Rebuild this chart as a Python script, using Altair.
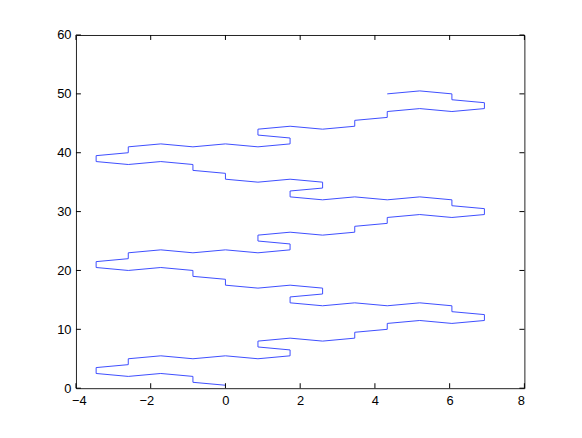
import altair as alt
import pandas as pd

# Path vertices (in drawing order)
xs = [
    0, -0.87, -0.87, -1.73, -2.6, -3.46, -3.46, -2.6, -2.6, -1.73,
    -0.87, 0, 0.87, 1.73, 1.73, 0.87, 0.87, 1.73, 2.6, 3.46,
    3.46, 4.33, 4.33, 5.2, 6.06, 6.93, 6.93, 6.06, 6.06, 5.2,
    4.33, 3.46, 2.6, 1.73, 1.73, 2.6, 2.6, 1.73, 0.87, 0,
    0, -0.87, -0.87, -1.73, -2.6, -3.46, -3.46, -2.6, -2.6, -1.73,
    -0.87, 0, 0.87, 1.73, 1.73, 0.87, 0.87, 1.73, 2.6, 3.46,
    3.46, 4.33, 4.33, 5.2, 6.06, 6.93, 6.93, 6.06, 6.06, 5.2,
    4.33, 3.46, 2.6, 1.73, 1.73, 2.6, 2.6, 1.73, 0.87, 0,
    0, -0.87, -0.87, -1.73, -2.6, -3.46, -3.46, -2.6, -2.6, -1.73,
    -0.87, 0, 0.87, 1.73, 1.73, 0.87, 0.87, 1.73, 2.6, 3.46,
    3.46, 4.33, 4.33, 5.2, 6.06, 6.93, 6.93, 6.06, 6.06, 5.2,
    4.33,
]
ys = [
    0.5, 1, 2, 2.5, 2, 2.5, 3.5, 4, 5, 5.5,
    5, 5.5, 5, 5.5, 6.5, 7, 8, 8.5, 8, 8.5,
    9.5, 10, 11, 11.5, 11, 11.5, 12.5, 13, 14, 14.5,
    14, 14.5, 14, 14.5, 15.5, 16, 17, 17.5, 17, 17.5,
    18.5, 19, 20, 20.5, 20, 20.5, 21.5, 22, 23, 23.5,
    23, 23.5, 23, 23.5, 24.5, 25, 26, 26.5, 26, 26.5,
    27.5, 28, 29, 29.5, 29, 29.5, 30.5, 31, 32, 32.5,
    32, 32.5, 32, 32.5, 33.5, 34, 35, 35.5, 35, 35.5,
    36.5, 37, 38, 38.5, 38, 38.5, 39.5, 40, 41, 41.5,
    41, 41.5, 41, 41.5, 42.5, 43, 44, 44.5, 44, 44.5,
    45.5, 46, 47, 47.5, 47, 47.5, 48.5, 49, 50, 50.5,
    50,
]
x_ticks = [-4, -2, 0, 2, 4, 6, 8]
y_ticks = [0, 10, 20, 30, 40, 50, 60]

df = pd.DataFrame({"i": list(range(len(xs))), "x": xs, "y": ys})
xt = pd.DataFrame({"v": x_ticks})
yt = pd.DataFrame({"v": y_ticks})

FONT = "Liberation Sans"
W, H = 452, 356
TICK = 5
xscale = alt.Scale(domain=[-4, 8], nice=False, zero=False)
yscale = alt.Scale(domain=[0, 60], nice=False, zero=False)

axis_common = dict(
    grid=False, domain=False, ticks=False,
    labelFont=FONT, labelFontSize=13, labelColor="black", title=None,
)
x_axis = alt.Axis(
    orient="bottom", values=x_ticks, labelPadding=6,
    labelOffset={"condition": {"test": "datum.value < 0", "value": -4.5}, "value": 0},
    **axis_common,
)
y_axis = alt.Axis(orient="left", values=y_ticks, labelPadding=5, **axis_common)

line = alt.Chart(df).mark_line(color="#3d4dff", strokeWidth=1).encode(
    x=alt.X("x:Q", scale=xscale, axis=x_axis),
    y=alt.Y("y:Q", scale=yscale, axis=y_axis),
    order="i:Q",
)

tick_style = dict(color="black", strokeWidth=1)

ticks_bottom = alt.Chart(xt).mark_rule(**tick_style).encode(
    x=alt.X("v:Q", scale=xscale, axis=x_axis),
    y=alt.value(H), y2=alt.value(H - TICK),
)
ticks_top = alt.Chart(xt).mark_rule(**tick_style).encode(
    x=alt.X("v:Q", scale=xscale, axis=x_axis),
    y=alt.value(0), y2=alt.value(TICK),
)
ticks_left = alt.Chart(yt).mark_rule(**tick_style).encode(
    y=alt.Y("v:Q", scale=yscale, axis=y_axis),
    x=alt.value(0), x2=alt.value(TICK),
)
ticks_right = alt.Chart(yt).mark_rule(**tick_style).encode(
    y=alt.Y("v:Q", scale=yscale, axis=y_axis),
    x=alt.value(W), x2=alt.value(W - TICK),
)

chart = (
    alt.layer(line, ticks_bottom, ticks_top, ticks_left, ticks_right)
    .properties(
        width=W, height=H,
        background="white",
        autosize=alt.AutoSizeParams(type="none"),
        padding={"left": 68.5, "top": 25.5, "right": 50, "bottom": 49},
    )
    .configure_view(stroke="#222222", strokeWidth=1)
)

chart.save("out.html", embed_options={"renderer": "svg", "actions": False})
